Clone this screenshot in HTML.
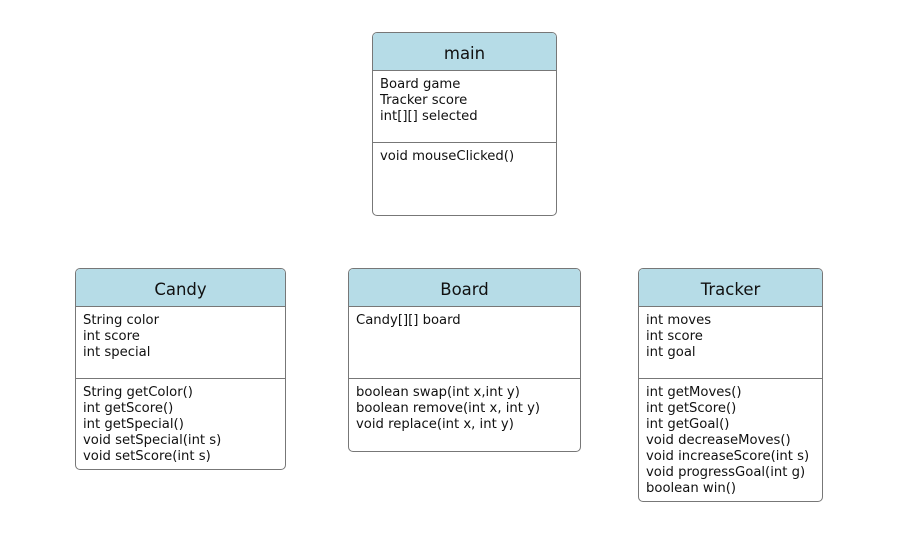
<!DOCTYPE html>
<html><head><style>
body{margin:0;width:902px;height:533px;background:#fff;position:relative;font-family:"DejaVu Sans","Liberation Sans",sans-serif;color:#111;}
.b{position:absolute;border:1px solid #777;border-radius:5px;background:#fff;box-sizing:border-box;overflow:hidden}
.h{position:absolute;left:0;right:0;top:0;height:37px;background:#b6dce7;border-bottom:1px solid #777;font-size:16.5px;text-align:center;line-height:41px}
.s{position:absolute;left:7px;font-size:13.2px;line-height:16px;white-space:pre}
.d{position:absolute;left:0;right:0;height:1px;background:#777}
</style></head><body>
<div class="b" style="left:372px;top:32px;width:185px;height:184px">
<div class="h">main</div>
<div class="s" style="top:44px">Board game
Tracker score
int[][] selected</div>
<div class="d" style="top:109px"></div>
<div class="s" style="top:116px">void mouseClicked()</div>
</div>
<div class="b" style="left:75px;top:268px;width:211px;height:202px">
<div class="h">Candy</div>
<div class="s" style="top:44px">String color
int score
int special</div>
<div class="d" style="top:109px"></div>
<div class="s" style="top:116px">String getColor()
int getScore()
int getSpecial()
void setSpecial(int s)
void setScore(int s)</div>
</div>
<div class="b" style="left:348px;top:268px;width:233px;height:184px">
<div class="h">Board</div>
<div class="s" style="top:44px">Candy[][] board</div>
<div class="d" style="top:109px"></div>
<div class="s" style="top:116px">boolean swap(int x,int y)
boolean remove(int x, int y)
void replace(int x, int y)</div>
</div>
<div class="b" style="left:638px;top:268px;width:185px;height:234px">
<div class="h">Tracker</div>
<div class="s" style="top:44px">int moves
int score
int goal</div>
<div class="d" style="top:109px"></div>
<div class="s" style="top:116px">int getMoves()
int getScore()
int getGoal()
void decreaseMoves()
void increaseScore(int s)
void progressGoal(int g)
boolean win()</div>
</div>
</body></html>
